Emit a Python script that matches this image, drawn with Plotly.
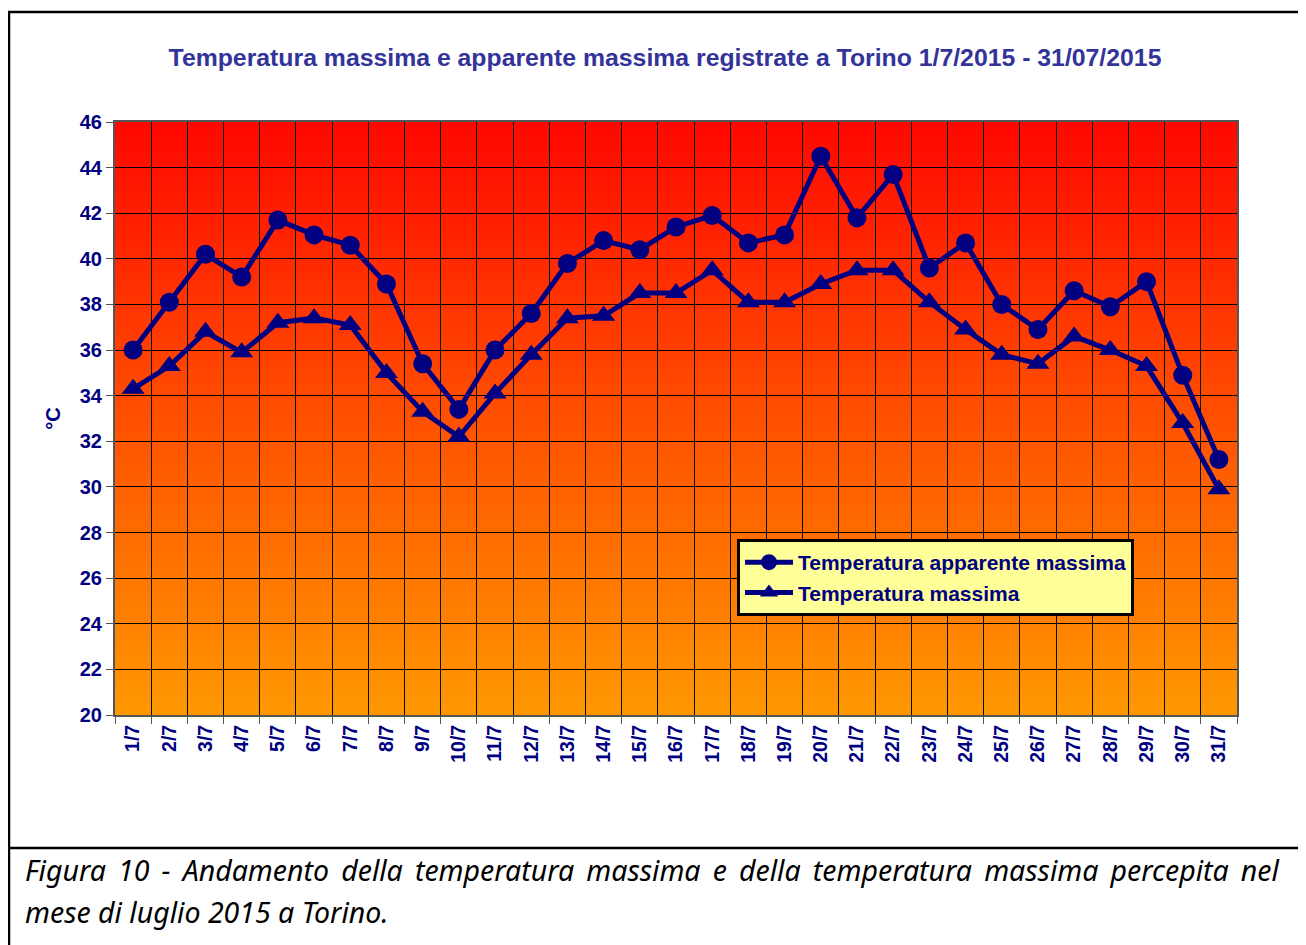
import plotly.graph_objects as go

days = [f"{d}/7" for d in range(1, 32)]
apparente = [36.0, 38.1, 40.2, 39.2, 41.7, 41.05, 40.6, 38.9, 35.4, 33.4,
             36.0, 37.6, 39.8, 40.8, 40.4, 41.4, 41.9, 40.7, 41.05, 44.5,
             41.8, 43.7, 39.6, 40.7, 38.0, 36.9, 38.6, 37.9, 39.0, 34.9, 31.2]
massima = [34.3, 35.3, 36.8, 35.9, 37.2, 37.4, 37.1, 35.0, 33.3, 32.2,
           34.1, 35.8, 37.4, 37.5, 38.5, 38.5, 39.5, 38.1, 38.1, 38.9,
           39.5, 39.5, 38.1, 36.9, 35.8, 35.4, 36.6, 36.0, 35.3, 32.8, 29.9]
y_ticks = list(range(20, 47, 2))

OFF = 8  # default body margin of the html page
W, H = 1306 - OFF, 945 - OFF
L, R, T, B = 115 - OFF, 1237 - OFF, 122 - OFF, 715 - OFF
NAVY = "#000080"

xs = list(range(1, 32))

fig = go.Figure()
fig.add_trace(go.Scatter(
    x=xs, y=apparente, name="Temperatura apparente massima",
    mode="lines+markers", line=dict(color=NAVY, width=5),
    marker=dict(symbol="circle", size=19, color=NAVY)))
fig.add_trace(go.Scatter(
    x=xs, y=massima, name="Temperatura massima",
    mode="lines+markers", line=dict(color=NAVY, width=5),
    marker=dict(symbol="triangle-up", size=20, color=NAVY)))

# gradient background
shapes = []
N = 150
for i in range(N):
    f0 = i / N
    f1 = (i + 1) / N
    fm = (f0 + f1) / 2  # 0 bottom -> 1 top
    g = int(round(152 - (152 - 8) * fm))
    shapes.append(dict(type="rect", xref="x domain", yref="y domain",
                       x0=0, x1=1, y0=f0, y1=f1 + 0.002, layer="below",
                       line=dict(width=0), fillcolor=f"rgb(255,{g},0)"))


def px(xp):
    return (xp - OFF - L) / (R - L)


def py(yp):
    return (B - (yp - OFF)) / (B - T)


# outer frame (table cell borders)
shapes.append(dict(type="line", xref="paper", yref="paper",
                   x0=px(9), x1=px(9), y0=py(11), y1=py(950),
                   line=dict(color="black", width=2.5)))
shapes.append(dict(type="line", xref="paper", yref="paper",
                   x0=px(8), x1=px(1320), y0=py(12), y1=py(12),
                   line=dict(color="black", width=2.5)))
shapes.append(dict(type="line", xref="paper", yref="paper",
                   x0=px(8), x1=px(1320), y0=py(848), y1=py(848),
                   line=dict(color="black", width=2.5)))

cap1_words = ["Figura", "10", "-", "Andamento", "della", "temperatura", "massima",
              "e", "della", "temperatura", "massima", "percepita", "nel"]
cap1 = (" \u2009").join(cap1_words)
cap2 = "mese di luglio 2015 a Torino."
capfont = dict(family="Noto Sans", size=28.5, color="black", style="italic")

annotations = [
    dict(text=cap1, xref="paper", yref="paper", x=px(23), y=py(870),
         xanchor="left", yanchor="middle", showarrow=False, font=capfont),
    dict(text=cap2, xref="paper", yref="paper", x=px(23), y=py(912),
         xanchor="left", yanchor="middle", showarrow=False, font=capfont),
]

fig.update_layout(
    width=W, height=H,
    margin=dict(l=L, r=W - R, t=T, b=H - B),
    paper_bgcolor="white", plot_bgcolor="rgb(255,80,0)",
    title=dict(text="<b>Temperatura massima e apparente massima registrate a Torino 1/7/2015 - 31/07/2015</b>",
               xref="container", yref="container", x=(665 - OFF) / W, y=1 - (57 - OFF) / H,
               xanchor="center", yanchor="middle",
               font=dict(family="Liberation Sans, Arial", size=24.8, color="#333399")),
    shapes=shapes, annotations=annotations,
    showlegend=True,
    legend=dict(x=px(737), y=py(539), xanchor="left", yanchor="top",
                bgcolor="#FFFF99", bordercolor="black", borderwidth=3,
                font=dict(family="Liberation Sans, Arial", size=21, color=NAVY, weight="bold"),
                tracegroupgap=0, itemwidth=48),
)

fig.update_xaxes(
    range=[0.5, 31.5], tickmode="array", tickvals=xs, ticktext=days,
    tickangle=-90, ticks="", showgrid=False, zeroline=False,
    tickfont=dict(family="Liberation Sans, Arial", size=19.5, color=NAVY, weight="bold"),
    showline=True, linecolor="#555555", linewidth=2, mirror=True,
    minor=dict(tick0=0.5, dtick=1, showgrid=True, gridcolor="black", gridwidth=1,
               ticks="outside", ticklen=7, tickcolor="#555555"),
)
fig.update_yaxes(
    range=[20, 46], tickmode="array", tickvals=y_ticks,
    ticks="outside", ticklen=7, tickcolor="#555555",
    showgrid=True, gridcolor="black", gridwidth=1, zeroline=False,
    tickfont=dict(family="Liberation Sans, Arial", size=20, color=NAVY, weight="bold"),
    showline=True, linecolor="#555555", linewidth=2, mirror=True,
    title=dict(text="<b>°C</b>", standoff=14,
               font=dict(family="Liberation Sans, Arial", size=20, color=NAVY)),
)

fig.write_html("out.html")
